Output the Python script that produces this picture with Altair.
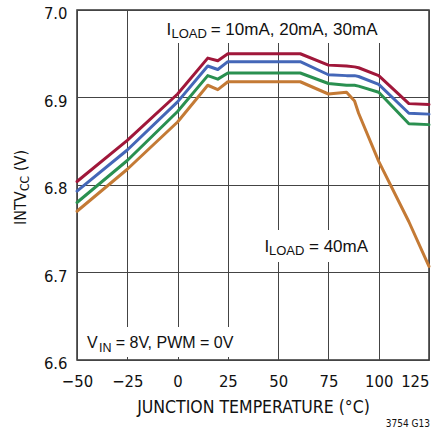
import altair as alt
import pandas as pd

# Junction temperature (°C) at which each curve was read
temps = [-50, -25, 0, 15, 20, 25, 61, 75, 84, 88, 90, 100, 115, 125]

# INTVCC (V) per load current
intvcc_10ma = [6.804, 6.851, 6.904, 6.945, 6.942, 6.950, 6.950, 6.937, 6.936, 6.935, 6.934, 6.925, 6.893, 6.892]
intvcc_20ma = [6.793, 6.840, 6.895, 6.936, 6.932, 6.941, 6.941, 6.926, 6.925, 6.925, 6.924, 6.915, 6.882, 6.881]
intvcc_30ma = [6.780, 6.828, 6.884, 6.925, 6.921, 6.928, 6.928, 6.916, 6.914, 6.914, 6.913, 6.906, 6.870, 6.869]
intvcc_40ma = [6.770, 6.818, 6.872, 6.914, 6.909, 6.918, 6.918, 6.904, 6.906, 6.896, 6.882, 6.827, 6.758, 6.707]

loads = ["10mA", "20mA", "30mA", "40mA"]
load_colors = ["#A0173A", "#4467B8", "#2A9050", "#C47A35"]

x_ticks = [-50, -25, 0, 25, 50, 75, 100, 125]
y_ticks = [6.6, 6.7, 6.8, 6.9, 7.0]

rows = []
for name, series in zip(loads, [intvcc_10ma, intvcc_20ma, intvcc_30ma, intvcc_40ma]):
    for t, v in zip(temps, series):
        rows.append({"temp": t, "intvcc": v, "load": name})
df = pd.DataFrame(rows)

NARROW = "Liberation Sans Narrow, DejaVu Sans Condensed, sans-serif"
REGULAR = "Liberation Sans, Arial, sans-serif"

W, H = 352, 350

lines = alt.Chart(df).mark_line(strokeWidth=3, strokeJoin="round", strokeCap="round").encode(
    x=alt.X(
        "temp:Q",
        scale=alt.Scale(domain=[-50, 125], nice=False, zero=False),
        axis=alt.Axis(
            values=x_ticks,
            title="JUNCTION TEMPERATURE (°C)",
            titleFont=NARROW,
            titleFontSize=17.5,
            titleFontWeight="normal",
            titleColor="#111",
            titleBaseline="alphabetic",
            titleY=52,
            labelFont=NARROW,
            labelFontSize=16.5,
            labelColor="#111",
            labelBaseline="alphabetic",
            labelPadding=26,
            labelFlush=False,
            labelOverlap=False,
            labelAlign={"condition": {"test": "datum.value == 125", "value": "right"}, "value": "center"},
            labelExpr="datum.value < 0 ? '\u2212' + abs(datum.value) : '' + datum.value",
            ticks=False,
            tickSize=0,
            domain=False,
            grid=True,
        ),
    ),
    y=alt.Y(
        "intvcc:Q",
        scale=alt.Scale(domain=[6.6, 7.0], nice=False, zero=False),
        axis=alt.Axis(
            values=y_ticks,
            format=".1f",
            title=None,
            labelFont=NARROW,
            labelFontSize=16.5,
            labelColor="#111",
            labelBaseline="alphabetic",
            labelOffset=8.5,
            labelPadding=10,
            labelFlush=False,
            labelOverlap=False,
            ticks=False,
            tickSize=0,
            domain=False,
            grid=True,
        ),
    ),
    color=alt.Color("load:N", scale=alt.Scale(domain=loads, range=load_colors), legend=None),
)

blank = alt.Data(values=[{}])


def box(x0, x1, y0, y1):
    return alt.Chart(blank).mark_rect(color="white").encode(
        x=alt.value(x0), x2=alt.value(x1), y=alt.value(y0), y2=alt.value(y1)
    )


def label(text, x, y, size, font=REGULAR, align="left", angle=0):
    return alt.Chart(blank).mark_text(
        text=text, font=font, fontSize=size, align=align, baseline="alphabetic",
        angle=angle, color="#111"
    ).encode(x=alt.value(x), y=alt.value(y))


boxes = [
    box(73, 311, 1, 33),
    box(185, 298, 220, 252),
    box(2, 163, 317, 347),
]

texts = [
    # load-current note at the top
    label("I", 89.5, 25, 17),
    label("LOAD", 94.5, 28.3, 13),
    label("= 10mA, 20mA, 30mA", 133.7, 25, 17),
    # 40mA curve note
    label("I", 187.5, 241.7, 17),
    label("LOAD", 192, 245, 13),
    label("= 40mA", 232, 241.7, 17),
    # test conditions
    label("V", 10, 338, 16),
    label("IN", 22, 341.7, 12.5),
    label("= 8V, PWM = 0V", 38.7, 338, 16),
    # y-axis title with subscript
    label("INTV", -51, 215, 16, font=NARROW, angle=270),
    label("CC", -48, 181, 12, font=NARROW, angle=270),
    label("(V)", -51, 161, 16, font=NARROW, angle=270),
    # figure code
    label("3754 G13", 353, 417, 10, font=NARROW, align="right"),
]

chart = alt.layer(*boxes, lines, *texts).properties(
    width=W,
    height=H,
    autosize=alt.AutoSizeParams(type="none"),
    padding={"left": 77, "top": 10, "right": 15, "bottom": 74},
    background="white",
).configure_view(
    stroke="#333", strokeWidth=1.5
).configure_axis(
    gridColor="#444", gridWidth=1, gridOpacity=1
)

chart.save("out.html", embed_options={"renderer": "svg", "actions": False})
